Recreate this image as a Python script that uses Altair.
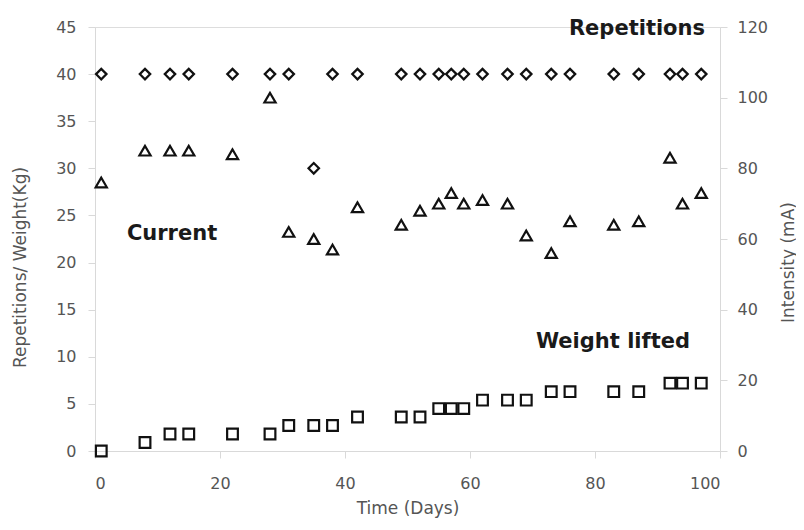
import altair as alt
import pandas as pd

days = [1, 8, 12, 15, 22, 28, 31, 35, 38, 42, 49, 52, 55, 57, 59, 62, 66, 69, 73, 76, 83, 87, 92, 94, 97]
repetitions = [40, 40, 40, 40, 40, 40, 40, 30, 40, 40, 40, 40, 40, 40, 40, 40, 40, 40, 40, 40, 40, 40, 40, 40, 40]
weight_kg = [0, 0.9, 1.8, 1.8, 1.8, 1.8, 2.7, 2.7, 2.7, 3.6, 3.6, 3.6, 4.5, 4.5, 4.5, 5.4, 5.4, 5.4, 6.3, 6.3, 6.3, 6.3, 7.2, 7.2, 7.2]
current_ma = [76, 85, 85, 85, 84, 100, 62, 60, 57, 69, 64, 68, 70, 73, 70, 71, 70, 61, 56, 65, 64, 65, 83, 70, 73]

label_text = ["Repetitions", "Current", "Weight lifted"]
label_day = [97.6, 5.1, 95.2]
label_val = [44.8, 23.0, 11.6]
label_align = ["right", "left", "right"]

df = pd.DataFrame({"day": days, "reps": repetitions, "weight": weight_kg, "current": current_ma})

FONT = "DejaVu Sans"
GREY = "#555555"
LINE = "#d9d9d9"
INK = "#111111"

common = dict(grid=False, domainColor=LINE, tickColor=LINE, tickSize=7,
              labelFontSize=16, labelColor=GREY, labelFont=FONT,
              titleFontSize=17, titleColor=GREY, titleFontWeight="normal", titleFont=FONT)

xscale = alt.Scale(domain=[0, 100], nice=False)
xaxis = alt.Axis(values=[0, 20, 40, 60, 80, 100], title="Time (Days)", labelPadding=17,
                 titlePadding=9, **common)
lscale = alt.Scale(domain=[0, 45], nice=False)
laxis = alt.Axis(values=list(range(0, 46, 5)), title="Repetitions/ Weight(Kg)", labelPadding=12,
                 titleAngle=270, titleX=-75, titleY=240, titleAlign="center", titleBaseline="middle",
                 **common)
rscale = alt.Scale(domain=[0, 120], nice=False)
raxis = alt.Axis(values=list(range(0, 121, 20)), title="Intensity (mA)", orient="right", labelPadding=10,
                 titleAngle=270, titleX=68, titleY=235, titleAlign="center", titleBaseline="middle",
                 **common)

base = alt.Chart(df)
reps = base.mark_point(shape="diamond", filled=False, color=INK, strokeWidth=2.2, size=110, opacity=1).encode(
    x=alt.X("day:Q", scale=xscale, axis=xaxis),
    y=alt.Y("reps:Q", scale=lscale, axis=laxis),
)
weight = base.mark_point(shape="square", filled=False, color=INK, strokeWidth=2.2, size=115, opacity=1).encode(
    x=alt.X("day:Q", scale=xscale),
    y=alt.Y("weight:Q", scale=lscale),
)

txt_layers = []
for t, d, v, a in zip(label_text, label_day, label_val, label_align):
    sub = pd.DataFrame({"t": [t], "d": [d], "v": [v]})
    txt_layers.append(
        alt.Chart(sub).mark_text(fontWeight="bold", fontSize=21, font="DejaVu Sans", color="#1a1a1a",
                                 baseline="middle", align=a).encode(
            x=alt.X("d:Q", scale=xscale),
            y=alt.Y("v:Q", scale=lscale),
            text="t:N",
        )
    )

left = alt.layer(reps, weight, *txt_layers)
right = base.mark_point(shape="triangle-up", filled=False, color=INK, strokeWidth=2.2, size=125, opacity=1).encode(
    x=alt.X("day:Q", scale=xscale),
    y=alt.Y("current:Q", scale=rscale, axis=raxis),
)

chart = alt.layer(left, right).resolve_scale(y="independent").properties(
    width=625, height=424,
    autosize=alt.AutoSizeParams(type="none"),
    padding={"left": 87, "top": 19, "right": 76, "bottom": 71},
).configure_view(stroke=None).configure(background="white")

chart.save("out.html", embed_options={"renderer": "svg", "actions": False})
